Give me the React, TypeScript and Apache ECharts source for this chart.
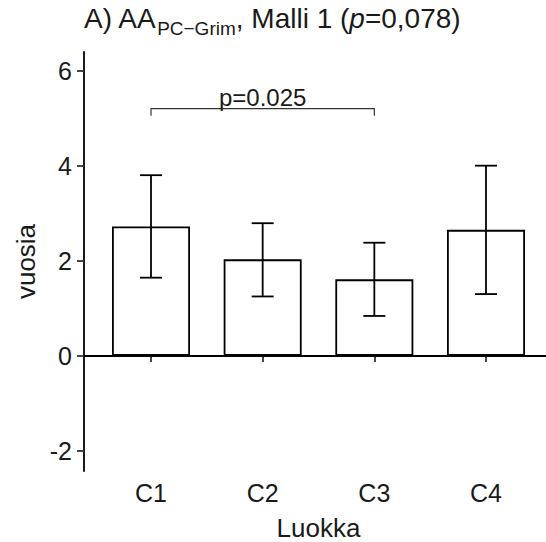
import React, { useEffect, useRef } from "react";
import * as echarts from "echarts";

const categories = ["C1", "C2", "C3", "C4"];
const means = [2.72, 2.03, 1.61, 2.65];
const lower = [1.645, 1.25, 0.84, 1.3];
const upper = [3.8, 2.79, 2.38, 4.0];
const yTicks = [-2, 0, 2, 4, 6];
const bracket = { from: 1, to: 3, y: 5.2, tip: 5.05, label: "p=0.025" };

const FONT = "Liberation Sans, Arial, sans-serif";
const INK = "#1a1a1a";

export default function App() {
  const ref = useRef<HTMLDivElement>(null);
  useEffect(() => {
    document.body.style.margin = "0";
    const chart = echarts.init(ref.current!, null, { renderer: "svg" });
    const xs = categories.map((_, i) => i + 1);
    chart.setOption({
      animation: false,
      textStyle: { fontFamily: FONT },
      title: {
        left: 79,
        top: -7,
        text: "{a|A) AA}{s|PC\u2212Grim}{a|, Malli 1 (}{i|p}{a|=0,078)}",
        textStyle: {
          fontWeight: "normal",
          rich: {
            a: { fontSize: 28, color: INK, fontFamily: FONT, fontWeight: "normal", lineHeight: 34, verticalAlign: "bottom" },
            s: { fontSize: 19, color: INK, fontFamily: FONT, fontWeight: "normal", lineHeight: 24, verticalAlign: "bottom", padding: [0, 0, -6, 0] },
            i: { fontSize: 28, color: INK, fontFamily: FONT, fontWeight: "normal", fontStyle: "italic", lineHeight: 34, verticalAlign: "bottom" },
          },
        },
      },
      grid: { left: 84, right: -7, top: 52, bottom: 71, outerBoundsMode: "none", containLabel: false },
      xAxis: {
        type: "value",
        min: 0.4,
        max: 4.6,
        name: "Luokka",
        nameLocation: "middle",
        nameGap: 44,
        nameTextStyle: { fontSize: 26, color: INK, fontFamily: FONT },
        splitLine: { show: false },
        axisLine: { show: true, lineStyle: { color: "#000", width: 1.8 } },
        axisTick: { show: true, customValues: xs, length: 6, lineStyle: { color: "#333", width: 1.8 } },
        axisLabel: {
          customValues: xs,
          formatter: (v: number) => categories[Math.round(v) - 1] ?? "",
          fontSize: 25,
          color: INK,
          margin: 9,
          fontFamily: FONT,
        },
      },
      yAxis: {
        type: "value",
        min: -2.42,
        max: 6.39,
        name: "vuosia",
        nameLocation: "middle",
        nameGap: 43,
        nameTextStyle: { fontSize: 26, color: INK, fontFamily: FONT },
        splitLine: { show: false },
        axisLine: { show: true, lineStyle: { color: "#000", width: 1.8 } },
        axisTick: { show: true, customValues: yTicks, length: 7, lineStyle: { color: "#333", width: 1.8 } },
        axisLabel: {
          customValues: yTicks,
          fontSize: 25,
          color: INK,
          margin: 12,
          fontFamily: FONT,
        },
      },
      series: [
        {
          type: "bar",
          data: xs.map((x, i) => [x, means[i]]),
          barWidth: 78,
          itemStyle: { color: "#fff", borderColor: "#000", borderWidth: 1.8 },
          markLine: {
            silent: true,
            symbol: "none",
            label: { show: false },
            lineStyle: { color: "#000", width: 1.8, type: "solid" },
            data: [{ yAxis: 0 }],
          },
          z: 2,
        },
        {
          type: "custom",
          z: 3,
          data: xs.map((x, i) => [x, lower[i], upper[i]]),
          renderItem: (params: any, api: any) => {
            const x = api.value(0);
            const lo = api.coord([x, api.value(1)]);
            const hi = api.coord([x, api.value(2)]);
            const half = 11;
            const style = { stroke: "#000", lineWidth: 1.8 };
            return {
              type: "group",
              children: [
                { type: "line", shape: { x1: lo[0], y1: lo[1], x2: hi[0], y2: hi[1] }, style },
                { type: "line", shape: { x1: hi[0] - half, y1: hi[1], x2: hi[0] + half, y2: hi[1] }, style },
                { type: "line", shape: { x1: lo[0] - half, y1: lo[1], x2: lo[0] + half, y2: lo[1] }, style },
              ],
            };
          },
        },
        {
          type: "custom",
          z: 3,
          data: [[bracket.from, bracket.to, bracket.y, bracket.tip]],
          renderItem: (params: any, api: any) => {
            const a = api.coord([api.value(0), api.value(2)]);
            const b = api.coord([api.value(1), api.value(2)]);
            const aT = api.coord([api.value(0), api.value(3)]);
            const bT = api.coord([api.value(1), api.value(3)]);
            return {
              type: "group",
              children: [
                {
                  type: "polyline",
                  shape: { points: [aT, a, b, bT] },
                  style: { stroke: "#333", lineWidth: 1.2, fill: "none" },
                },
                {
                  type: "text",
                  x: (a[0] + b[0]) / 2,
                  y: a[1] + 1,
                  style: {
                    text: bracket.label,
                    fontSize: 24,
                    fontFamily: FONT,
                    fill: INK,
                    align: "center",
                    verticalAlign: "bottom",
                  },
                },
              ],
            };
          },
        },
      ],
    });
    return () => chart.dispose();
  }, []);
  return <div ref={ref} style={{ width: 546, height: 542 }} />;
}
